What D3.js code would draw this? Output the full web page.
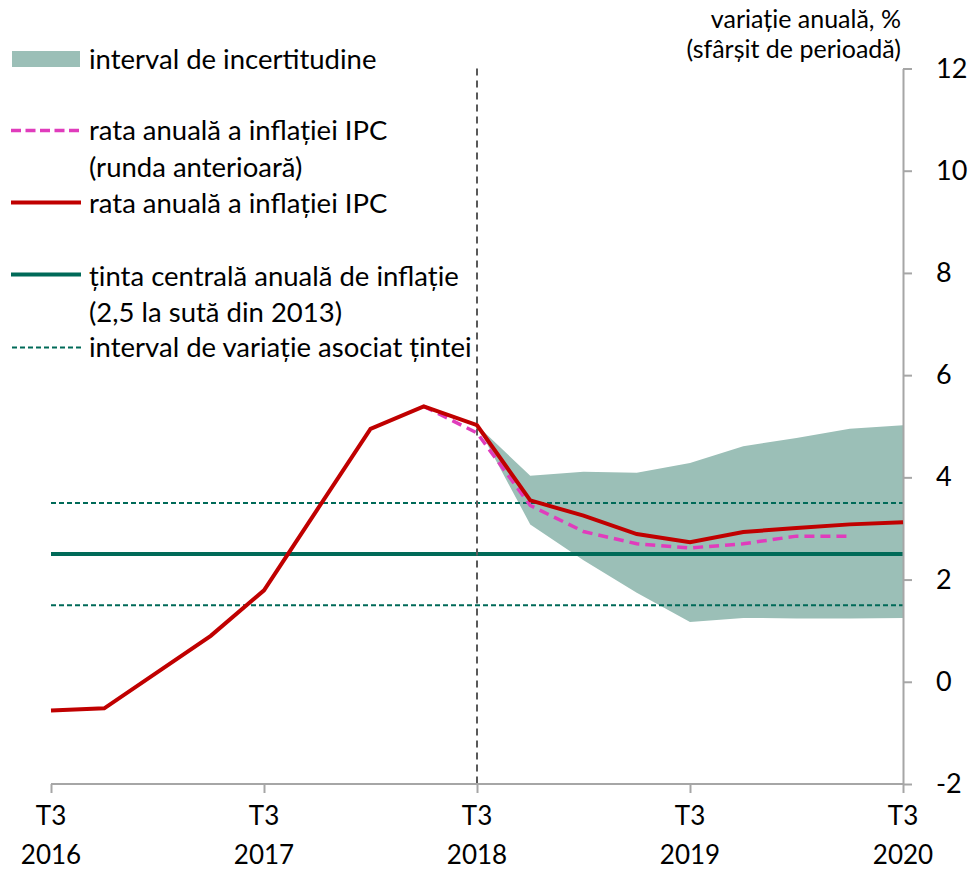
<!DOCTYPE html>
<html>
<head>
<meta charset="utf-8">
<script src="https://cdn.jsdelivr.net/npm/d3@7"></script>
<style>
  html, body { margin: 0; padding: 0; background: #fff; }
  svg { display: block; font-family: Lato, "Noto Sans", sans-serif; }
</style>
</head>
<body>
<svg id="chart" width="969" height="869"></svg>
<script>
// Quarterly periods, T3 2016 .. T3 2020
const periods = [
  "T3 2016", "T4 2016", "T1 2017", "T2 2017", "T3 2017", "T4 2017",
  "T1 2018", "T2 2018", "T3 2018", "T4 2018", "T1 2019", "T2 2019",
  "T3 2019", "T4 2019", "T1 2020", "T2 2020", "T3 2020"
];

// Annual CPI inflation rate, current round (%)
const cpiCurrent = [
  -0.56, -0.52, 0.19, 0.90, 1.79, 3.37, 4.95, 5.39, 5.02,
  3.55, 3.25, 2.89, 2.73, 2.93, 3.01, 3.08, 3.12
];

// Annual CPI inflation rate, previous round (%), from T2 2018 to T2 2020
const cpiPrevPeriods = [
  "T2 2018", "T3 2018", "T4 2018", "T1 2019", "T2 2019",
  "T3 2019", "T4 2019", "T1 2020", "T2 2020"
];
const cpiPrevious = [5.39, 4.87, 3.45, 2.94, 2.70, 2.62, 2.70, 2.85, 2.85];

// Uncertainty interval, from T3 2018 onwards
const bandPeriods = [
  "T3 2018", "T4 2018", "T1 2019", "T2 2019", "T3 2019",
  "T4 2019", "T1 2020", "T2 2020", "T3 2020"
];
const bandUpper = [5.02, 4.03, 4.11, 4.09, 4.28, 4.61, 4.77, 4.95, 5.02];
const bandLower = [5.02, 3.08, 2.38, 1.74, 1.17, 1.25, 1.24, 1.24, 1.25];

// Inflation target and its tolerance band
const targetCentral = 2.5;
const targetLow = 1.5;
const targetHigh = 3.5;

// Forecast start marker
const forecastStart = "T3 2018";

// Axis ticks
const xTickPeriods = ["T3 2016", "T3 2017", "T3 2018", "T3 2019", "T3 2020"];
const xTickQuarter = ["T3", "T3", "T3", "T3", "T3"];
const xTickYear = ["2016", "2017", "2018", "2019", "2020"];
const yTicks = [-2, 0, 2, 4, 6, 8, 10, 12];

// Text
const unitLines = ["variație anuală, %", "(sfârșit de perioadă)"];
const legendTexts = {
  band: ["interval de incertitudine"],
  prev: ["rata anuală a inflației IPC", "(runda anterioară)"],
  curr: ["rata anuală a inflației IPC"],
  target: ["ținta centrală anuală de inflație", "(2,5 la sută din 2013)"],
  range: ["interval de variație asociat țintei"]
};

const C = {
  band: "#9bbfb7",
  red: "#c00000",
  pink: "#e03cbc",
  teal: "#006a58",
  axis: "#a6a6a6",
  vline: "#595959",
  text: "#000"
};

const svg = d3.select("#chart");

const x = d3.scalePoint().domain(periods).range([51, 903]).padding(0);
const y = d3.scaleLinear().domain([-2, 12]).range([784, 68.5]);
const x0 = x(periods[0]), x1 = x(periods[periods.length - 1]);

// Uncertainty band
const bandData = bandPeriods.map((p, i) => ({ p, lo: bandLower[i], hi: bandUpper[i] }));
svg.append("path")
  .datum(bandData)
  .attr("fill", C.band)
  .attr("d", d3.area().x(d => x(d.p)).y0(d => y(d.lo)).y1(d => y(d.hi)));

// Target band lines
svg.selectAll("line.range")
  .data([targetHigh, targetLow])
  .join("line")
  .attr("class", "range")
  .attr("x1", x0).attr("x2", x1)
  .attr("y1", d => y(d)).attr("y2", d => y(d))
  .attr("stroke", C.teal).attr("stroke-width", 2)
  .attr("stroke-dasharray", "5,3");

svg.append("line")
  .attr("x1", x0).attr("x2", x1)
  .attr("y1", y(targetCentral)).attr("y2", y(targetCentral))
  .attr("stroke", C.teal).attr("stroke-width", 4);

// Forecast start marker
svg.append("line")
  .attr("x1", x(forecastStart)).attr("x2", x(forecastStart))
  .attr("y1", y(12)).attr("y2", y(-2))
  .attr("stroke", C.vline).attr("stroke-width", 2)
  .attr("stroke-dasharray", "7,5");

// Axes
const xAxis = d3.axisBottom(x).tickValues(xTickPeriods).tickSize(9).tickFormat("");
const gx = svg.append("g").attr("transform", `translate(0,${y(-2)})`).call(xAxis);
gx.select(".domain").attr("d", `M${x0},0H${x1}`);
gx.selectAll("path, line").attr("stroke", C.axis).attr("stroke-width", 2);

const xl = svg.append("g").attr("font-size", 26).attr("fill", C.text).attr("text-anchor", "middle");
xl.selectAll("text.q").data(xTickPeriods).join("text")
  .attr("class", "q").attr("x", d => x(d)).attr("y", 825)
  .text((d, i) => xTickQuarter[i]);
xl.selectAll("text.yr").data(xTickPeriods).join("text")
  .attr("class", "yr").attr("x", d => x(d)).attr("y", 864)
  .text((d, i) => xTickYear[i]);

const yAxis = d3.axisRight(y).tickValues(yTicks).tickSize(9).tickPadding(24)
  .tickSizeOuter(0).tickFormat(d => String(d));
const gy = svg.append("g").attr("transform", `translate(${x1},0)`).call(yAxis);
gy.selectAll("path, line").attr("stroke", C.axis).attr("stroke-width", 2);
gy.selectAll("text").attr("font-size", 27).attr("font-family", "Lato, sans-serif").attr("fill", C.text);

// Series lines
const line = d3.line().x(d => x(d.p)).y(d => y(d.v));
svg.append("path")
  .datum(cpiPrevPeriods.map((p, i) => ({ p, v: cpiPrevious[i] })))
  .attr("fill", "none").attr("stroke", C.pink).attr("stroke-width", 3.5)
  .attr("stroke-dasharray", "10,6").attr("d", line);
svg.append("path")
  .datum(periods.map((p, i) => ({ p, v: cpiCurrent[i] })))
  .attr("fill", "none").attr("stroke", C.red).attr("stroke-width", 4)
  .attr("stroke-linejoin", "miter").attr("d", line);

// Unit label
svg.append("g").attr("font-size", 25).attr("text-anchor", "end").attr("fill", C.text)
  .selectAll("text").data(unitLines).join("text")
  .attr("x", 901).attr("y", (d, i) => 28 + i * 30)
  .text(d => d);

// Legend
const lg = svg.append("g").attr("font-size", 27.5).attr("fill", C.text);
lg.append("rect").attr("x", 12).attr("y", 51).attr("width", 68).attr("height", 16).attr("fill", C.band);
lg.append("line").attr("x1", 11).attr("x2", 81).attr("y1", 130.5).attr("y2", 130.5)
  .attr("stroke", C.pink).attr("stroke-width", 3.5).attr("stroke-dasharray", "10,4.5");
lg.append("line").attr("x1", 11).attr("x2", 81).attr("y1", 202.5).attr("y2", 202.5)
  .attr("stroke", C.red).attr("stroke-width", 4);
lg.append("line").attr("x1", 11).attr("x2", 81).attr("y1", 274.5).attr("y2", 274.5)
  .attr("stroke", C.teal).attr("stroke-width", 4);
lg.append("line").attr("x1", 12).attr("x2", 81).attr("y1", 347.5).attr("y2", 347.5)
  .attr("stroke", C.teal).attr("stroke-width", 2).attr("stroke-dasharray", "5,3");

const legendRows = [
  { lines: legendTexts.band, y: 69 },
  { lines: legendTexts.prev, y: 140 },
  { lines: legendTexts.curr, y: 212.5 },
  { lines: legendTexts.target, y: 285.5 },
  { lines: legendTexts.range, y: 357 }
];
legendRows.forEach(r => {
  r.lines.forEach((t, i) => {
    lg.append("text").attr("x", 89).attr("y", r.y + i * 36.5).text(t);
  });
});
</script>
</body>
</html>
